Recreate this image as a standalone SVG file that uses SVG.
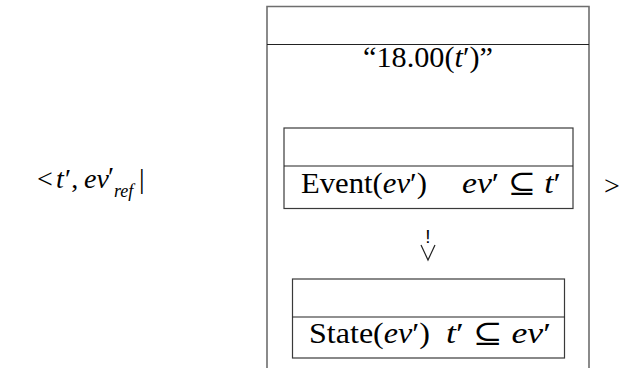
<svg xmlns="http://www.w3.org/2000/svg" width="624" height="368" viewBox="0 0 624 368">
<style>
text{font-family:"Liberation Serif","DejaVu Serif",serif;font-size:28px;fill:#000}
.big{font-size:29px}
.i{font-style:italic}
.sub{font-size:18px}
.outer{fill:none;stroke:#6e6e6e;stroke-width:1.6}
.box{fill:#fff;stroke:#3a3a3a;stroke-width:1.2}
.div{stroke:#222;stroke-width:1.2}
</style>
<rect width="624" height="368" fill="#fff"/>
<g id="left-label">
<text x="37" y="188">&lt;</text>
<text x="56" y="188" class="i">t</text>
<text x="65" y="188">′,</text>
<text x="84" y="188" class="i">ev</text>
<text x="108" y="186">′</text>
<text x="114" y="197" class="i sub">ref</text>
<text x="139" y="188">|</text>
</g>
<g id="right-label">
<text x="604" y="195">&gt;</text>
</g>
<g id="outer">
<path class="outer" d="M267,380 V6.5 H589 V380"/>
<line class="div" x1="267" y1="44.5" x2="589" y2="44.5"/>
<text class="big" x="363" y="67" textLength="130" lengthAdjust="spacingAndGlyphs">“18.00(<tspan class="i">t</tspan>′)”</text>
</g>
<g id="event">
<rect class="box" x="284" y="128" width="289" height="80.5"/>
<line class="div" x1="284" y1="166" x2="573" y2="166"/>
<text class="big" x="301" y="193" textLength="126" lengthAdjust="spacingAndGlyphs">Event(<tspan class="i">ev</tspan>′)</text>
<text class="big" x="462" y="193" textLength="99" lengthAdjust="spacingAndGlyphs"><tspan class="i">ev</tspan>′ ⊆ <tspan class="i">t</tspan>′</text>
</g>
<g id="state">
<rect class="box" x="292.5" y="279" width="272" height="79"/>
<line class="div" x1="292.5" y1="317" x2="564.5" y2="317"/>
<text class="big" x="309" y="343" textLength="121" lengthAdjust="spacingAndGlyphs">State(<tspan class="i">ev</tspan>′)</text>
<text class="big" x="446" y="343" textLength="105" lengthAdjust="spacingAndGlyphs"><tspan class="i">t</tspan>′ ⊆ <tspan class="i">ev</tspan>′</text>
</g>
<g id="connectors">
<text x="428" y="243" text-anchor="middle" style="font-family:'Liberation Sans',sans-serif;font-size:19px">!</text>
<path d="M421,245 L428,260 L435,245" fill="none" stroke="#222" stroke-width="1.2"/>
</g>
</svg>
